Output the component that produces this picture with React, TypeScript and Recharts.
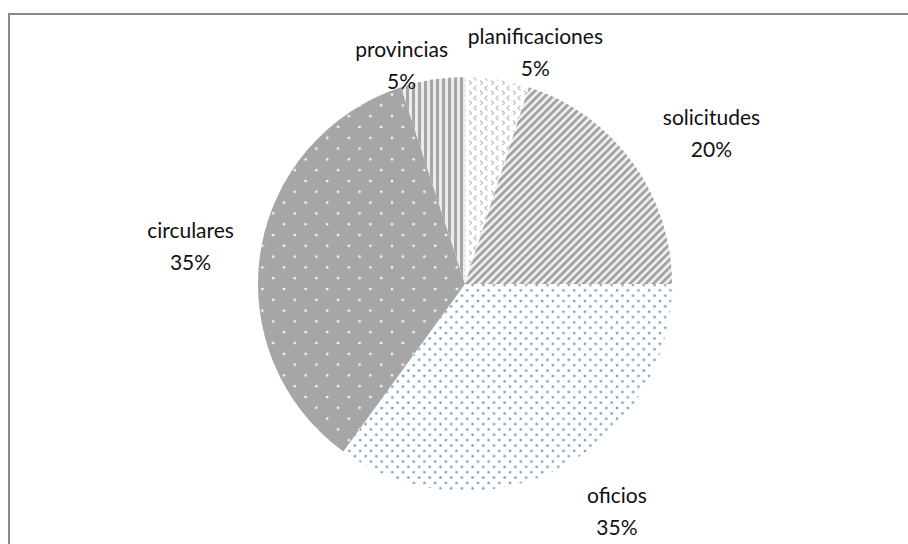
import React from 'react';
import { PieChart, Pie, Cell } from 'recharts';

// Share of documents by type (percent), clockwise from 12 o'clock
const categories = ['planificaciones', 'solicitudes', 'oficios', 'circulares', 'provincias'];
const shares = [5, 20, 35, 35, 5];
const percentLabels = ['5%', '20%', '35%', '35%', '5%'];

const data = categories.map((name, i) => ({ name, value: shares[i], pct: percentLabels[i] }));

// pattern fill per slice
const FILLS: Record<string, string> = {
  planificaciones: 'url(#pat-planif)',
  solicitudes: 'url(#pat-solic)',
  oficios: 'url(#pat-oficios)',
  circulares: 'url(#pat-circ)',
  provincias: 'url(#pat-prov)',
};

// nudge of each label from the slice's outer edge midpoint (Excel "best fit" placement)
const LABEL_NUDGE: Record<string, [number, number]> = {
  planificaciones: [38, -28],
  solicitudes: [79, -30],
  oficios: [58, 42],
  circulares: [-70, -6],
  provincias: [-31, -15],
};

const RADIAN = Math.PI / 180;
const FONT = 'Lato, "Open Sans", "Liberation Sans", sans-serif';

const renderLabel = (props: any) => {
  const { cx, cy, midAngle, outerRadius, payload, name } = props;
  const key = payload?.name ?? name;
  const [nx, ny] = LABEL_NUDGE[key] || [0, 0];
  const x = cx + outerRadius * Math.cos(-midAngle * RADIAN) + nx;
  const y = cy + outerRadius * Math.sin(-midAngle * RADIAN) + ny;
  return (
    <text
      x={x}
      y={y}
      textAnchor="middle"
      fill="#111"
      style={{ fontFamily: FONT, fontSize: 21 }}
    >
      <tspan x={x} y={y - 16} dominantBaseline="central">{key}</tspan>
      <tspan x={x} y={y + 16} dominantBaseline="central">{payload?.pct}</tspan>
    </text>
  );
};

export default function App() {
  return (
    <div
      style={{
        position: 'fixed',
        left: 8,
        top: 13,
        width: 900,
        height: 531,
        borderLeft: '2px solid #8a8a8a',
        borderTop: '2px solid #8a8a8a',
        background: '#fff',
        overflow: 'hidden',
      }}
    >
      <PieChart width={898} height={529}>
        <defs>
          <pattern id="pat-planif" width="11" height="10" patternUnits="userSpaceOnUse">
            <rect width="11" height="10" fill="#ffffff" />
            <path d="M4.5 0.5 L2 3 L4.5 5.5" stroke="#c4c4c4" strokeWidth="1.3" fill="none" />
            <path d="M8 5.5 L10.5 8 L8 10.5" stroke="#c4c4c4" strokeWidth="1.3" fill="none" />
          </pattern>
          <pattern
            id="pat-solic"
            width="5.5"
            height="5.5"
            patternUnits="userSpaceOnUse"
            patternTransform="rotate(45)"
          >
            <rect width="5.5" height="5.5" fill="#f0f0f0" />
            <rect width="2.8" height="5.5" fill="#a3a3a3" />
          </pattern>
          <pattern id="pat-oficios" width="10.7" height="10.7" patternUnits="userSpaceOnUse">
            <rect width="10.7" height="10.7" fill="#ffffff" />
            <circle cx="2.5" cy="2.5" r="1.35" fill="#6f9fd8" />
            <circle cx="7.85" cy="7.85" r="1.35" fill="#6f9fd8" />
          </pattern>
          <pattern id="pat-circ" width="21.6" height="21.6" patternUnits="userSpaceOnUse">
            <rect width="21.6" height="21.6" fill="#a6a6a6" />
            <circle cx="4" cy="4" r="1.4" fill="#f4f4f4" />
            <circle cx="14.8" cy="14.8" r="1.4" fill="#f4f4f4" />
          </pattern>
          <pattern id="pat-prov" width="6" height="6" patternUnits="userSpaceOnUse">
            <rect width="6" height="6" fill="#ececec" />
            <rect width="3" height="6" fill="#a6a6a6" />
          </pattern>
        </defs>
        <Pie
          data={data}
          dataKey="value"
          nameKey="name"
          cx={450}
          cy={264}
          outerRadius={207}
          startAngle={90}
          endAngle={-270}
          stroke="none"
          label={renderLabel}
          labelLine={false}
          isAnimationActive={false}
        >
          {data.map((d) => (
            <Cell key={d.name} fill={FILLS[d.name]} />
          ))}
        </Pie>
      </PieChart>
    </div>
  );
}
